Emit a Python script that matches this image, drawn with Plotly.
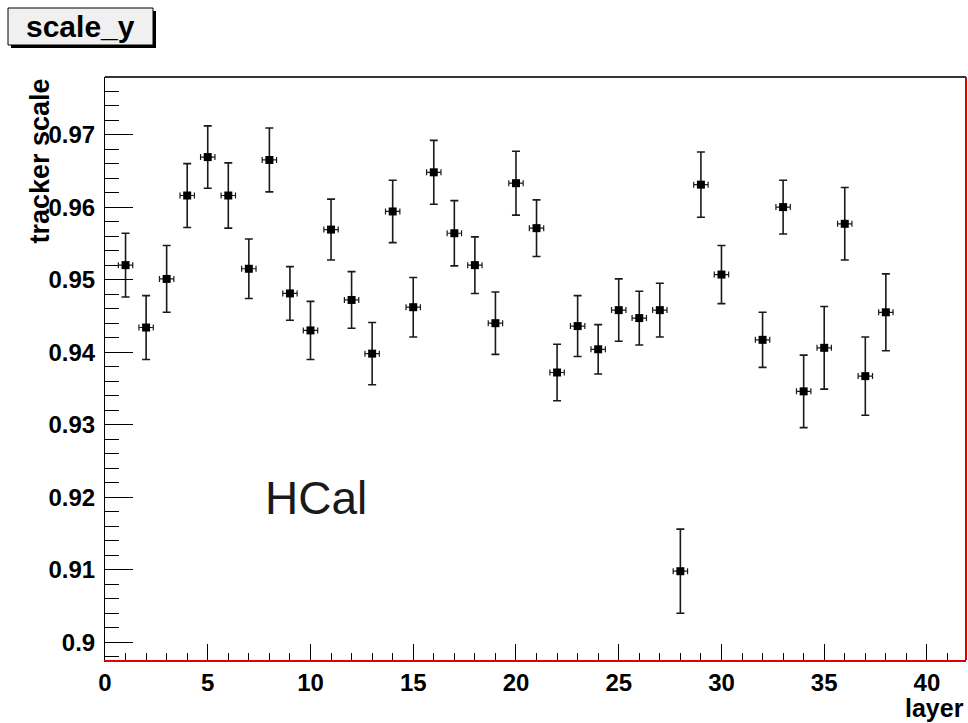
import plotly.graph_objects as go

layers = [1, 2, 3, 4, 5, 6, 7, 8, 9, 10, 11, 12, 13, 14, 15, 16, 17, 18, 19, 20,
          21, 22, 23, 24, 25, 26, 27, 28, 29, 30, 32, 33, 34, 35, 36, 37, 38]
scale = [0.9520, 0.9434, 0.9501, 0.9616, 0.9669, 0.9616, 0.9515, 0.9665, 0.9481, 0.9430,
         0.9569, 0.9472, 0.9398, 0.9594, 0.9462, 0.9648, 0.9564, 0.9520, 0.9440, 0.9633,
         0.9571, 0.9372, 0.9436, 0.9404, 0.9458, 0.9447, 0.9458, 0.9098, 0.9631, 0.9507,
         0.9417, 0.9600, 0.9346, 0.9406, 0.9577, 0.9367, 0.9455]
scale_err = [0.0044, 0.0044, 0.0046, 0.0044, 0.0043, 0.0045, 0.0041, 0.0044, 0.0037, 0.0040,
             0.0042, 0.0039, 0.0043, 0.0043, 0.0041, 0.0044, 0.0045, 0.0039, 0.0043, 0.0044,
             0.0039, 0.0039, 0.0042, 0.0034, 0.0043, 0.0037, 0.0037, 0.0058, 0.0045, 0.0040,
             0.0038, 0.0037, 0.0050, 0.0057, 0.0050, 0.0054, 0.0053]
layer_err = 0.35

y_tickvals = [0.90, 0.91, 0.92, 0.93, 0.94, 0.95, 0.96, 0.97]
y_ticktext = ["0.9", "0.91", "0.92", "0.93", "0.94", "0.95", "0.96", "0.97"]
x_tickvals = [0, 5, 10, 15, 20, 25, 30, 35, 40]
x_ticktext = ["0", "5", "10", "15", "20", "25", "30", "35", "40"]

title_text = "scale_y"
x_title = "layer"
y_title = "tracker scale"
label_text = "HCal"

FONT = "Liberation Sans, Arial, Helvetica, sans-serif"

fig = go.Figure()
fig.add_trace(go.Scatter(
    x=layers, y=scale, mode="markers",
    marker=dict(symbol="square", size=8, color="black"),
    error_y=dict(type="data", array=scale_err, visible=True, color="#1a1a1a", thickness=1.6, width=4),
    error_x=dict(type="constant", value=layer_err, visible=True, color="#1a1a1a", thickness=1.2, width=3),
    showlegend=False,
    hoverinfo="skip",
))

fig.update_layout(
    width=968, height=723,
    margin=dict(l=105, r=2, t=77, b=63),
    paper_bgcolor="white", plot_bgcolor="white",
    font=dict(family=FONT, color="black"),
    xaxis=dict(
        range=[0, 41.9], showgrid=False, zeroline=False,
        showline=True, linecolor="#e00000", linewidth=2,
        ticks="inside", ticklen=16, tickcolor="black", tickwidth=1,
        tickvals=x_tickvals, ticktext=x_ticktext,
        tickfont=dict(family=FONT, size=24, weight="bold"),
        ticklabelstandoff=0,
        minor=dict(dtick=1, ticks="inside", ticklen=7, tickcolor="black", tickwidth=1, showgrid=False),
    ),
    yaxis=dict(
        range=[0.89756, 0.97794], showgrid=False, zeroline=False,
        showline=True, linecolor="black", linewidth=1,
        ticks="inside", ticklen=28, tickcolor="black", tickwidth=1,
        tickvals=y_tickvals, ticktext=y_ticktext,
        tickfont=dict(family=FONT, size=24, weight="bold"),
        ticklabelstandoff=4,
        minor=dict(dtick=0.002, tick0=0.9, ticks="inside", ticklen=14, tickcolor="black", tickwidth=1, showgrid=False),
    ),
    shapes=[
        dict(type="line", xref="paper", yref="paper", x0=0, x1=1, y0=1, y1=1,
             line=dict(color="#333333", width=2)),
        dict(type="line", xref="paper", yref="paper", x0=1, x1=1, y0=0, y1=1,
             line=dict(color="#e00000", width=2)),
        dict(type="rect", xref="paper", yref="paper",
             x0=(11 - 105) / 861, x1=(156 - 105) / 861,
             y0=(660 - 48) / 583, y1=(660 - 11) / 583,
             fillcolor="black", line=dict(width=0)),
        dict(type="rect", xref="paper", yref="paper",
             x0=(8 - 105) / 861, x1=(153 - 105) / 861,
             y0=(660 - 45) / 583, y1=(660 - 8) / 583,
             fillcolor="#f0f0f0", line=dict(color="black", width=1)),
    ],
    annotations=[
        dict(text=title_text, xref="paper", yref="paper",
             x=(80.5 - 105) / 861, y=(660 - 26.5) / 583, xanchor="center", yanchor="middle",
             showarrow=False, font=dict(family=FONT, size=30, weight="bold", color="black")),
        dict(text=y_title, xref="paper", yref="paper", textangle=-90,
             x=(39 - 105) / 861, y=(660 - 161.5) / 583, xanchor="center", yanchor="middle",
             showarrow=False, font=dict(family=FONT, size=27, weight="bold", color="black")),
        dict(text=x_title, xref="paper", yref="paper",
             x=1.0, y=(660 - 708) / 583, xanchor="right", yanchor="middle",
             showarrow=False, font=dict(family=FONT, size=25, weight="bold", color="black")),
        dict(text=label_text, xref="x", yref="y",
             x=7.7, y=0.9199, xanchor="left", yanchor="middle",
             showarrow=False, font=dict(family=FONT, size=46, color="#1a1a1a")),
    ],
)

fig.write_html(
    "out.html",
    config={"displayModeBar": False},
    post_script="document.body.style.margin='0';document.body.style.overflow='hidden';",
)
